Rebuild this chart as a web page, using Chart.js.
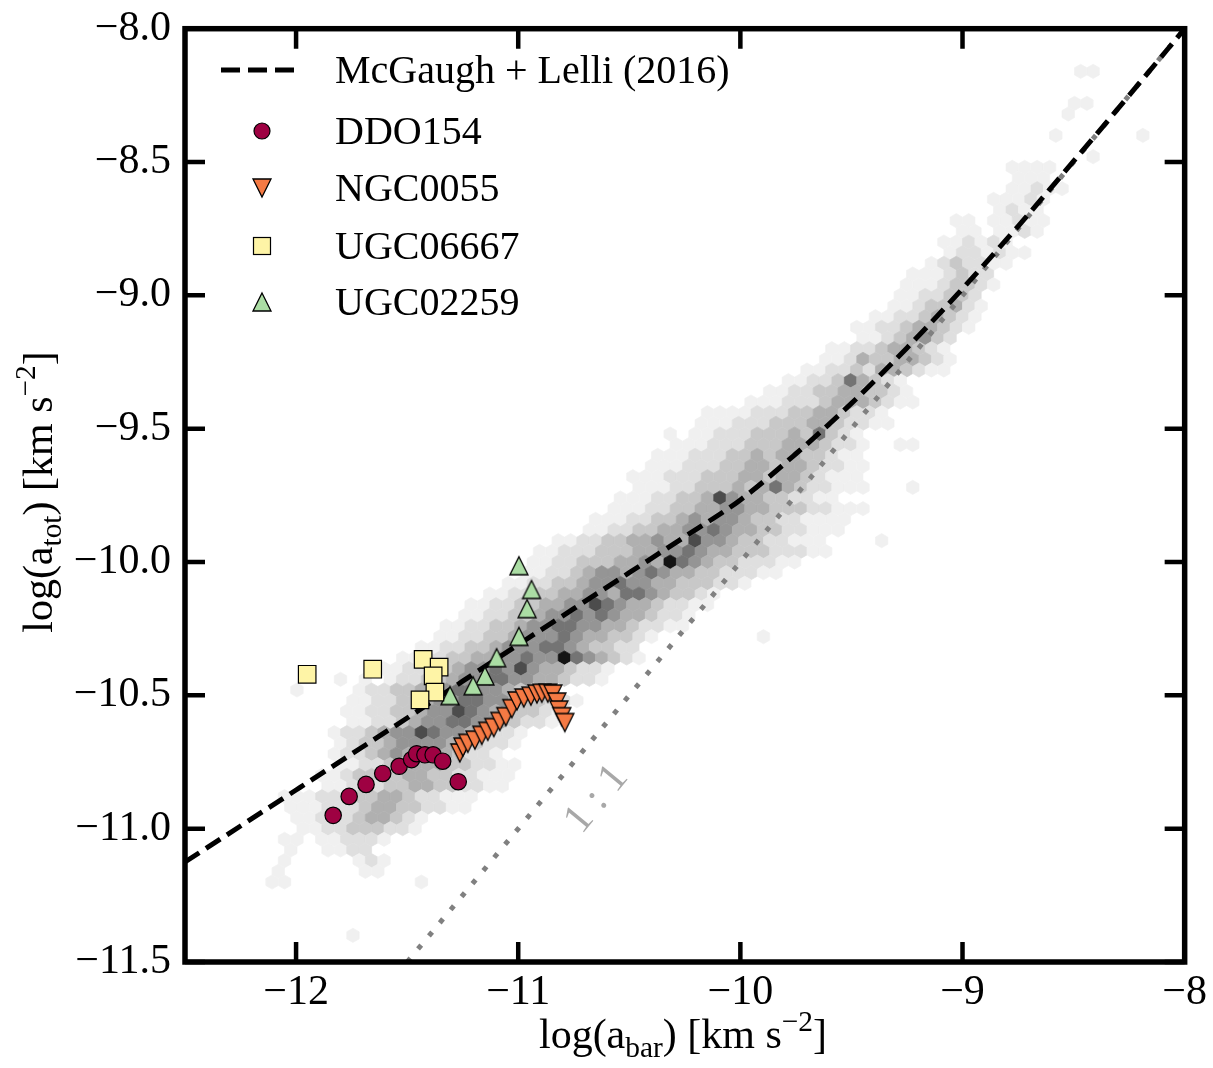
<!DOCTYPE html>
<html>
<head>
<meta charset="utf-8">
<script src="https://cdn.jsdelivr.net/npm/chart.js@4.4.0/dist/chart.umd.min.js"></script>
<style>
  html, body { margin: 0; padding: 0; background: #ffffff; }
  #wrap { width: 1213px; height: 1068px; }
</style>
</head>
<body>
<div id="wrap"><canvas id="myChart" width="1213" height="1068"></canvas></div>
<script>
// axis ticks
const xTicks = [-12, -11, -10, -9, -8];
const yTicks = [-8.0, -8.5, -9.0, -9.5, -10.0, -10.5, -11.0, -11.5];

// McGaugh + Lelli (2016) relation
const rarX = [-12.5, -12.25, -12.0, -11.75, -11.5, -11.25, -11.0, -10.75, -10.5, -10.25, -10.0, -9.75, -9.5, -9.25, -9.0, -8.75, -8.5, -8.25, -8.0];
const rarY = [-11.125, -10.99, -10.855, -10.72, -10.585, -10.447, -10.31, -10.175, -10.04, -9.905, -9.767, -9.594, -9.405, -9.197, -8.975, -8.741, -8.497, -8.25, -8.0];

// 1:1 line
const oneX = [-11.5, -8.0];
const oneY = [-11.5, -8.0];

// galaxies
const ddo154X = [-11.833, -11.761, -11.685, -11.610, -11.536, -11.480, -11.457, -11.420, -11.383, -11.340, -11.270];
const ddo154Y = [-10.950, -10.879, -10.834, -10.793, -10.766, -10.741, -10.719, -10.723, -10.723, -10.747, -10.824];

const ngc0055X = [-11.263, -11.249, -11.227, -11.195, -11.164, -11.137, -11.110, -11.083, -11.056, -11.029, -11.006, -10.975, -10.943, -10.916, -10.894, -10.867, -10.844, -10.826, -10.817, -10.804, -10.790];
const ngc0055Y = [-10.716, -10.694, -10.680, -10.668, -10.650, -10.635, -10.621, -10.598, -10.580, -10.550, -10.521, -10.510, -10.503, -10.495, -10.492, -10.492, -10.495, -10.525, -10.555, -10.580, -10.602];

const ugc06667X = [-11.950, -11.655, -11.428, -11.356, -11.383, -11.375, -11.442];
const ugc06667Y = [-10.421, -10.402, -10.365, -10.394, -10.427, -10.488, -10.517];

const ugc02259X = [-10.997, -10.940, -10.960, -10.997, -11.097, -11.150, -11.203, -11.307];
const ugc02259Y = [-10.014, -10.103, -10.175, -10.279, -10.359, -10.427, -10.464, -10.501];

// hexbin background: rows of [y, first column, grey level per cell (0 = empty)]
const hexY0 = -11.44, hexDy = 0.04, hexX0 = -12.5, hexDx = 0.056;
const hexRows = [
  [-8.16, 72, '11'],
  [-8.28, 71, '11'],
  [-8.32, 71, '1'],
  [-8.40, 70, '10000001'],
  [-8.48, 73, '1'],
  [-8.52, 66, '1111'],
  [-8.56, 67, '111'],
  [-8.60, 66, '11211'],
  [-8.64, 65, '11121'],
  [-8.68, 65, '1211'],
  [-8.72, 62, '11011211'],
  [-8.76, 62, '1101121'],
  [-8.80, 61, '112121'],
  [-8.84, 61, '1221211'],
  [-8.88, 60, '1232211'],
  [-8.92, 58, '1112322'],
  [-8.96, 58, '11123321'],
  [-9.00, 57, '1122332'],
  [-9.04, 57, '11233421'],
  [-9.08, 55, '112234321'],
  [-9.12, 54, '1122344321'],
  [-9.16, 54, '11234532'],
  [-9.20, 52, '1122344321'],
  [-9.24, 51, '11243344321'],
  [-9.28, 50, '112232443211'],
  [-9.32, 48, '1122364321'],
  [-9.36, 47, '112233443321'],
  [-9.40, 45, '11122234443211'],
  [-9.44, 42, '111122233443221'],
  [-9.48, 41, '1112223334432211'],
  [-9.52, 39, '1011222333436321'],
  [-9.56, 39, '11122233344432210011'],
  [-9.60, 38, '11122233434433211'],
  [-9.64, 37, '111222334434432211'],
  [-9.68, 36, '1112223334434432111'],
  [-9.72, 36, '11122333434643221110001'],
  [-9.76, 35, '111223347544332211'],
  [-9.80, 34, '111223344554433322111'],
  [-9.84, 33, '111223345455433221111'],
  [-9.88, 32, '112233445565443322111'],
  [-9.92, 30, '112233445447554332211100001'],
  [-9.96, 28, '112223334455654433322211'],
  [-10.00, 28, '1122333445486543322211'],
  [-10.04, 27, '112234554565443322211'],
  [-10.08, 26, '11223345565544333221'],
  [-10.12, 24, '1122334455466543321'],
  [-10.16, 23, '11223344557654432211'],
  [-10.20, 22, '1122334556565443221'],
  [-10.24, 21, '11223345566554432211'],
  [-10.28, 20, '112233455565443321000000001'],
  [-10.32, 19, '112233455566543322'],
  [-10.36, 17, '11223344556558654321'],
  [-10.40, 16, '1122334556575443221'],
  [-10.44, 12, '1010122334556655443221'],
  [-10.48, 9, '100001223345566554322'],
  [-10.52, 13, '1122334556655433221'],
  [-10.56, 13, '112233455765443321'],
  [-10.60, 13, '11223455665543221'],
  [-10.64, 12, '1223455765543221'],
  [-10.68, 12, '123345555443221'],
  [-10.72, 12, '12234544443221'],
  [-10.76, 12, '112233444332211'],
  [-10.80, 11, '1123333443322111'],
  [-10.84, 11, '112223344332211'],
  [-10.88, 8, '1112223344322111'],
  [-10.92, 8, '111222344332211'],
  [-10.96, 9, '11222344321'],
  [-11.00, 9, '1122333221'],
  [-11.04, 8, '110112221'],
  [-11.08, 8, '1001122'],
  [-11.12, 8, '100000121'],
  [-11.16, 7, '100000011'],
  [-11.20, 7, '1100000000001'],
  [-11.40, 13, '1']
];
const hexGrey = ['#ffffff', '#f0f0f0', '#dfdfdf', '#c8c8c8', '#b0b0b0', '#959595', '#747474', '#4c4c4c', '#141414'];

// build hex cell list
const hexCells = [];
hexRows.forEach(function (row) {
  const y = row[0], k0 = row[1], levels = row[2];
  const odd = Math.round((y - hexY0) / hexDy) % 2;
  for (let i = 0; i < levels.length; i++) {
    const lv = +levels[i];
    if (!lv) continue;
    hexCells.push({ x: hexX0 + (k0 + i + odd * 0.5) * hexDx, y: y, lv: lv });
  }
});

function toXY(xs, ys) {
  return xs.map(function (x, i) { return { x: x, y: ys[i] }; });
}

function triangleImage(fill, down) {
  const c = document.createElement('canvas');
  c.width = 22; c.height = 22;
  const g = c.getContext('2d');
  g.beginPath();
  if (down) { g.moveTo(2, 2); g.lineTo(20, 2); g.lineTo(11, 20); }
  else { g.moveTo(11, 2); g.lineTo(20, 20); g.lineTo(2, 20); }
  g.closePath();
  g.fillStyle = fill;
  g.fill();
  g.lineWidth = 1.3;
  g.strokeStyle = '#000000';
  g.stroke();
  return c;
}

const colDDO = '#9e0142';
const colNGC = '#f57a44';
const colU667 = '#fef4a6';
const colU259 = '#abdda4';
const triDown = triangleImage(colNGC, true);
const triUp = triangleImage(colU259, false);

const SERIF = '"Liberation Serif", "Times New Roman", serif';

function drawRich(ctx, parts, x, y, size) {
  let total = 0;
  parts.forEach(function (p) {
    ctx.font = (size * p[1]) + 'px ' + SERIF;
    total += ctx.measureText(p[0]).width;
  });
  let cx = x - total / 2;
  parts.forEach(function (p) {
    ctx.font = (size * p[1]) + 'px ' + SERIF;
    ctx.fillText(p[0], cx, y + p[2]);
    cx += ctx.measureText(p[0]).width;
  });
}

const hexPlugin = {
  id: 'hexbin',
  beforeDatasetsDraw: function (chart) {
    const ctx = chart.ctx;
    const xs = chart.scales.x, ys = chart.scales.y;
    const idx = chart.data.datasets.findIndex(function (d) { return d.label === 'hexbin'; });
    const meta = chart.getDatasetMeta(idx);
    const w = Math.abs(xs.getPixelForValue(hexDx) - xs.getPixelForValue(0));
    const h = Math.abs(ys.getPixelForValue(hexDy) - ys.getPixelForValue(0)) * 4 / 3;
    const a = chart.chartArea;
    ctx.save();
    ctx.beginPath();
    ctx.rect(a.left, a.top, a.right - a.left, a.bottom - a.top);
    ctx.clip();
    meta.data.forEach(function (pt, i) {
      const c = hexGrey[hexCells[i].lv];
      ctx.beginPath();
      ctx.moveTo(pt.x, pt.y - h / 2);
      ctx.lineTo(pt.x + w / 2, pt.y - h / 4);
      ctx.lineTo(pt.x + w / 2, pt.y + h / 4);
      ctx.lineTo(pt.x, pt.y + h / 2);
      ctx.lineTo(pt.x - w / 2, pt.y + h / 4);
      ctx.lineTo(pt.x - w / 2, pt.y - h / 4);
      ctx.closePath();
      ctx.fillStyle = c;
      ctx.fill();
      ctx.strokeStyle = c;
      ctx.lineWidth = 0.7;
      ctx.stroke();
    });
    ctx.restore();
  }
};

const framePlugin = {
  id: 'frame',
  afterDatasetsDraw: function (chart) {
    const ctx = chart.ctx;
    const xs = chart.scales.x, ys = chart.scales.y;
    const a = chart.chartArea;

    // 1:1 label
    const ang = Math.atan2(ys.getPixelForValue(-8) - ys.getPixelForValue(-11.5),
                           xs.getPixelForValue(-8) - xs.getPixelForValue(-11.5));
    ctx.save();
    ctx.translate(xs.getPixelForValue(-10.646), ys.getPixelForValue(-10.89));
    ctx.rotate(ang);
    ctx.fillStyle = '#a8a8a8';
    ctx.font = '42px ' + SERIF;
    ctx.textAlign = 'center';
    ctx.textBaseline = 'middle';
    ctx.fillText('1 : 1', 0, 0);
    ctx.restore();

    // ticks and frame
    ctx.save();
    ctx.strokeStyle = '#000000';
    ctx.lineCap = 'butt';
    ctx.lineWidth = 4.5;
    ctx.beginPath();
    xTicks.forEach(function (v) {
      const px = xs.getPixelForValue(v);
      ctx.moveTo(px, a.bottom); ctx.lineTo(px, a.bottom - 20);
      ctx.moveTo(px, a.top); ctx.lineTo(px, a.top + 20);
    });
    yTicks.forEach(function (v) {
      const py = ys.getPixelForValue(v);
      ctx.moveTo(a.left, py); ctx.lineTo(a.left + 20, py);
      ctx.moveTo(a.right, py); ctx.lineTo(a.right - 20, py);
    });
    ctx.stroke();
    ctx.lineWidth = 5.5;
    ctx.strokeRect(a.left, a.top, a.right - a.left, a.bottom - a.top);
    ctx.restore();

    // legend
    ctx.save();
    const lx = 262, tx = 335;
    const rows = [70, 131, 188, 246, 302];
    ctx.strokeStyle = '#000000';
    ctx.lineWidth = 5;
    ctx.setLineDash([19, 8]);
    ctx.beginPath();
    ctx.moveTo(221, rows[0]); ctx.lineTo(297, rows[0]);
    ctx.stroke();
    ctx.setLineDash([]);
    ctx.lineWidth = 1.2;
    ctx.beginPath();
    ctx.arc(lx, rows[1], 8, 0, Math.PI * 2);
    ctx.fillStyle = colDDO; ctx.fill(); ctx.stroke();
    ctx.drawImage(triDown, lx - 11, rows[2] - 11);
    ctx.fillStyle = colU667;
    ctx.fillRect(lx - 8.5, rows[3] - 8.5, 17, 17);
    ctx.strokeRect(lx - 8.5, rows[3] - 8.5, 17, 17);
    ctx.drawImage(triUp, lx - 11, rows[4] - 11);
    ctx.fillStyle = '#000000';
    ctx.textAlign = 'left';
    ctx.textBaseline = 'alphabetic';
    ctx.font = '40px ' + SERIF;
    const labels = ['McGaugh + Lelli (2016)', 'DDO154', 'NGC0055', 'UGC06667', 'UGC02259'];
    labels.forEach(function (t, i) { ctx.fillText(t, tx, rows[i] + 13); });
    ctx.restore();
  },
  afterDraw: function (chart) {
    const ctx = chart.ctx;
    ctx.save();
    ctx.fillStyle = '#000000';
    ctx.textAlign = 'left';
    ctx.textBaseline = 'alphabetic';
    drawRich(ctx, [['log(a', 1, 0], ['bar', 0.7, 9], [') [km s', 1, 0], ['\u22122', 0.7, -17], [']', 1, 0]], 683, 1048, 42);
    ctx.translate(52, 492);
    ctx.rotate(-Math.PI / 2);
    drawRich(ctx, [['log(a', 1, 0], ['tot', 0.7, 9], [') [km s', 1, 0], ['\u22122', 0.7, -17], [']', 1, 0]], 0, 0, 42);
    ctx.restore();
  }
};

new Chart(document.getElementById('myChart'), {
  type: 'scatter',
  data: {
    datasets: [
      { label: 'DDO154', data: toXY(ddo154X, ddo154Y), pointStyle: 'circle', pointRadius: 8.2,
        backgroundColor: colDDO, borderColor: '#000000', borderWidth: 1.2, order: 1 },
      { label: 'NGC0055', data: toXY(ngc0055X, ngc0055Y), pointStyle: triDown, pointRadius: 9,
        backgroundColor: colNGC, borderColor: '#000000', order: 2 },
      { label: 'UGC06667', data: toXY(ugc06667X, ugc06667Y), pointStyle: 'rect', pointRadius: 12.4,
        backgroundColor: colU667, borderColor: '#000000', borderWidth: 1.2, order: 3 },
      { label: 'UGC02259', data: toXY(ugc02259X, ugc02259Y), pointStyle: triUp, pointRadius: 9,
        backgroundColor: colU259, borderColor: '#000000', order: 4 },
      { label: 'McGaugh + Lelli (2016)', data: toXY(rarX, rarY), showLine: true, pointRadius: 0,
        borderColor: '#000000', borderWidth: 5, borderDash: [17, 8], borderCapStyle: 'butt',
        cubicInterpolationMode: 'monotone', order: 5 },
      { label: '1:1', data: toXY(oneX, oneY), showLine: true, pointRadius: 0,
        borderColor: '#808080', borderWidth: 5, borderDash: [5, 12], borderCapStyle: 'butt', order: 6 },
      { label: 'hexbin', data: hexCells, pointRadius: 0, pointHoverRadius: 0, order: 7 }
    ]
  },
  options: {
    responsive: false,
    animation: false,
    devicePixelRatio: 1,
    events: [],
    layout: { padding: { left: 0, right: 28, top: 15, bottom: 0 } },
    plugins: { legend: { display: false }, tooltip: { enabled: false } },
    scales: {
      x: {
        type: 'linear', min: -12.5, max: -8,
        afterBuildTicks: function (s) { s.ticks = xTicks.map(function (v) { return { value: v }; }); },
        afterFit: function (s) { s.height = 106; },
        grid: { display: false, drawTicks: false },
        border: { display: false },
        ticks: {
          autoSkip: false, maxRotation: 0, padding: 6, color: '#000000',
          font: { family: SERIF, size: 42, lineHeight: 1.2 },
          callback: function (v) { return '\u2212' + Math.abs(v); }
        }
      },
      y: {
        type: 'linear', min: -11.5, max: -8,
        afterBuildTicks: function (s) { s.ticks = yTicks.map(function (v) { return { value: v }; }); },
        afterFit: function (s) { s.width = 185; },
        grid: { display: false, drawTicks: false },
        border: { display: false },
        ticks: {
          autoSkip: false, padding: 14, color: '#000000',
          font: { family: SERIF, size: 42, lineHeight: 0.7 },
          callback: function (v) { return '\u2212' + Math.abs(v).toFixed(1); }
        }
      }
    }
  },
  plugins: [hexPlugin, framePlugin]
});
</script>
</body>
</html>
